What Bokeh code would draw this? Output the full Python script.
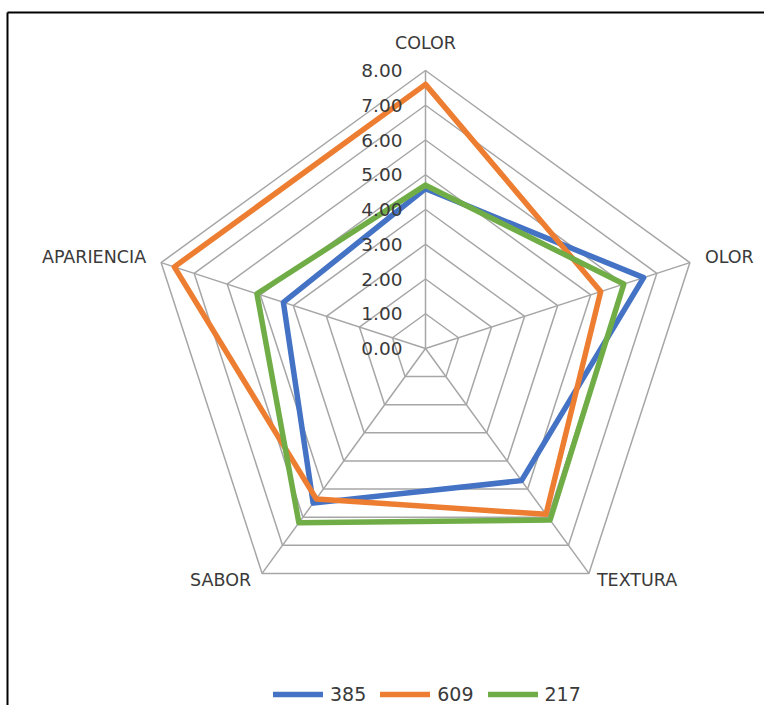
import numpy as np
from bokeh.plotting import figure
from bokeh.models import Legend, LegendItem, ColumnDataSource, Range1d, LinearAxis, FixedTicker
from bokeh.embed import file_html
from bokeh.resources import INLINE
from bokeh.core.properties import value

categories = ["COLOR", "OLOR", "TEXTURA", "SABOR", "APARIENCIA"]
series_names = ["385", "609", "217"]
s385 = [4.6, 6.6, 4.7, 5.5, 4.3]
s609 = [7.6, 5.3, 5.9, 5.35, 7.6]
s217 = [4.7, 6.0, 6.1, 6.2, 5.1]
ticks = [0, 1, 2, 3, 4, 5, 6, 7, 8]
tick_labels = ["0.00", "1.00", "2.00", "3.00", "4.00", "5.00", "6.00", "7.00", "8.00"]
colors = ["#4472C4", "#ED7D31", "#70AD47"]

FONT = "DejaVu Sans"
TXT = "#3a3a3a"

W, H = 764, 705
scale = 34.75          # px per unit
cx, cy = 425, 348      # centre (px)
fl, ft = 7, 12         # frame left / top

p = figure(width=W, height=H, output_backend="svg", toolbar_location=None,
           x_axis_type=None, y_axis_type=None,
           min_border=0, min_border_top=ft, min_border_left=fl,
           x_range=Range1d((fl - cx) / scale, (W - cx) / scale),
           y_range=Range1d((cy - H) / scale, (cy - ft) / scale))
p.xgrid.visible = False
p.ygrid.visible = False
p.outline_line_color = None
p.background_fill_color = "white"
p.border_fill_color = "white"

# chart-area border lines on top and left only (as bare axes without ticks)
for side in ("left", "above"):
    ax = LinearAxis(ticker=FixedTicker(ticks=[]), axis_line_color="#000000", axis_line_width=2,
                    major_tick_line_color=None, minor_tick_line_color=None,
                    major_label_standoff=0, major_tick_out=0, major_tick_in=0,
                    minor_tick_out=0)
    p.add_layout(ax, side)

n = len(categories)
ang = np.deg2rad(90 - 72 * np.arange(n))
rmax = ticks[-1]

# rings
rx, ry = [], []
for t in ticks[1:]:
    rx.append(list(t * np.cos(ang)) + [t * np.cos(ang[0])])
    ry.append(list(t * np.sin(ang)) + [t * np.sin(ang[0])])
p.multi_line(rx, ry, line_color="#a6a6a6", line_width=1.5)
# spokes
p.multi_line([[0, rmax * np.cos(a)] for a in ang], [[0, rmax * np.sin(a)] for a in ang],
             line_color="#a6a6a6", line_width=1.5)

# series
renderers = []
for vals, c in zip([s385, s609, s217], colors):
    v = np.array(vals + [vals[0]])
    a = np.concatenate([ang, ang[:1]])
    r = p.line(v * np.cos(a), v * np.sin(a), line_color=c, line_width=5.5,
               line_join="round", line_cap="round")
    renderers.append(r)

# tick labels
p.text(x=[0] * len(ticks), y=ticks, text=tick_labels, x_offset=-23,
       text_align="right", text_baseline="middle", text_font=value(FONT),
       text_font_size="18.5px", text_color=TXT)

# category labels
lab = ColumnDataSource(dict(
    x=list(rmax * np.cos(ang)), y=list(rmax * np.sin(ang)), text=categories,
    xo=[0, 15, 8, -11, -15], yo=[-28, -6, 7, 7, -6],
    al=["center", "left", "left", "right", "right"]))
p.text(x="x", y="y", text="text", x_offset="xo", y_offset="yo", text_align="al",
       text_baseline="middle", text_font=value(FONT), text_font_size="17.5px",
       text_color=TXT, source=lab)

legend = Legend(items=[LegendItem(label=nm, renderers=[r]) for nm, r in zip(series_names, renderers)],
                orientation="horizontal", location=(266, 0),
                glyph_width=50, glyph_height=20, label_standoff=7, spacing=14,
                padding=0, margin=0, border_line_alpha=0, background_fill_alpha=0,
                label_text_font=FONT, label_text_font_size="19px", label_text_color=TXT)
p.add_layout(legend, "center")

open("out.html", "w").write(file_html(p, INLINE))
